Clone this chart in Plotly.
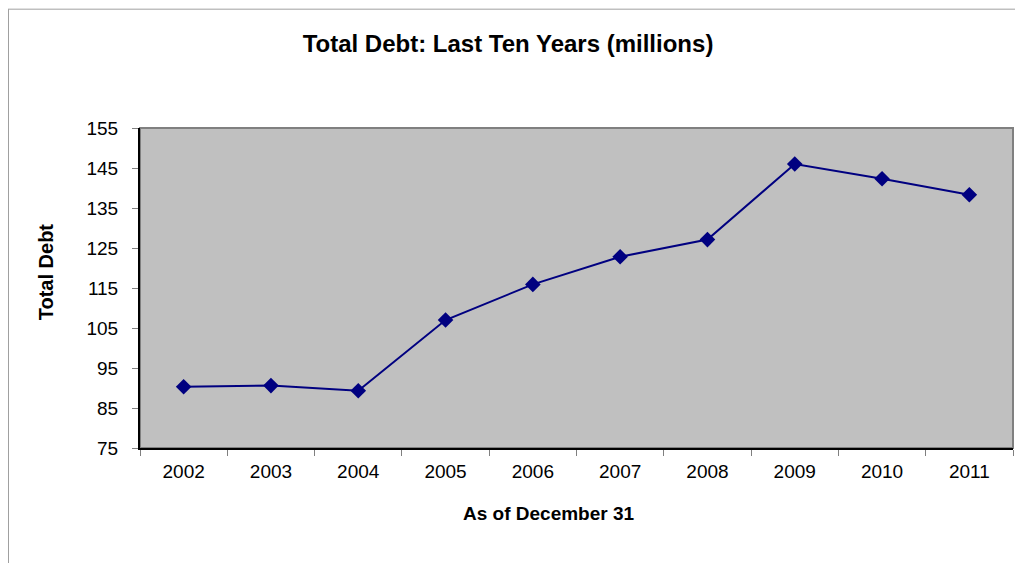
import plotly.graph_objects as go

years = ["2002", "2003", "2004", "2005", "2006", "2007", "2008", "2009", "2010", "2011"]
total_debt = [90.3, 90.6, 89.3, 107.0, 115.9, 122.8, 127.1, 146.0, 142.3, 138.3]
y_ticks = [75, 85, 95, 105, 115, 125, 135, 145, 155]

FONT = "Liberation Sans, Arial, sans-serif"
OFF = 8  # page body margin
W, H = 1015, 555
L, R, T = 132, 10, 119.5
pw = 873
ph = 320.5
B = H - T - ph


def px(xp):
    return (xp - OFF - L) / pw


def py(yp):
    return (H - B - (yp - OFF)) / ph


fig = go.Figure()
fig.add_trace(go.Scatter(
    x=years, y=total_debt, mode="lines+markers",
    line=dict(color="#000080", width=2),
    marker=dict(symbol="diamond", size=12, color="#000080"),
    showlegend=False, hoverinfo="x+y",
))

fig.update_layout(
    width=W, height=H,
    margin=dict(l=L, r=R, t=T, b=B),
    paper_bgcolor="white",
    plot_bgcolor="#C0C0C0",
    font=dict(family=FONT, color="black"),
    title=dict(text="<b>Total Debt: Last Ten Years (millions)</b>",
               x=(508 - OFF) / W, xanchor="center", y=1 - (44 - OFF) / H, yanchor="middle",
               font=dict(size=24, family=FONT, color="black")),
    xaxis=dict(
        type="category", tickson="boundaries",
        range=[-0.5, len(years) - 0.5],
        showgrid=False, zeroline=False,
        showline=True, linecolor="black", linewidth=2,
        ticks="outside", ticklen=6, tickcolor="#808080", tickwidth=1,
        tickfont=dict(size=19, family=FONT, color="black"),
        ticklabelstandoff=5,
    ),
    yaxis=dict(
        range=[75, 155], tickvals=y_ticks,
        showgrid=False, zeroline=False,
        showline=True, linecolor="black", linewidth=2,
        ticks="outside", ticklen=6, tickcolor="#808080", tickwidth=1,
        tickfont=dict(size=19, family=FONT, color="black"),
        ticklabelstandoff=10,
    ),
    shapes=[
        dict(type="rect", xref="paper", yref="paper", x0=0, x1=1, y0=0, y1=1,
             line=dict(color="#808080", width=2), layer="below"),
        dict(type="line", xref="paper", yref="paper",
             x0=-L / pw, x1=(W - L + 20) / pw,
             y0=(H - B - 0.5) / ph, y1=(H - B - 0.5) / ph,
             line=dict(color="#A0A0A0", width=1)),
        dict(type="line", xref="paper", yref="paper",
             x0=(0.5 - L) / pw, x1=(0.5 - L) / pw,
             y0=(H - B - 0.5) / ph, y1=-1,
             line=dict(color="#A0A0A0", width=1)),
    ],
    annotations=[
        dict(text="<b>As of December 31</b>", xref="paper", yref="paper",
             x=px(549), y=py(514), xanchor="center", yanchor="middle",
             showarrow=False, font=dict(size=19, family=FONT, color="black")),
        dict(text="<b>Total Debt</b>", xref="paper", yref="paper",
             x=px(46), y=py(272), xanchor="center", yanchor="middle",
             textangle=-90, showarrow=False, font=dict(size=20, family=FONT, color="black")),
    ],
)

fig.write_html("out.html")
